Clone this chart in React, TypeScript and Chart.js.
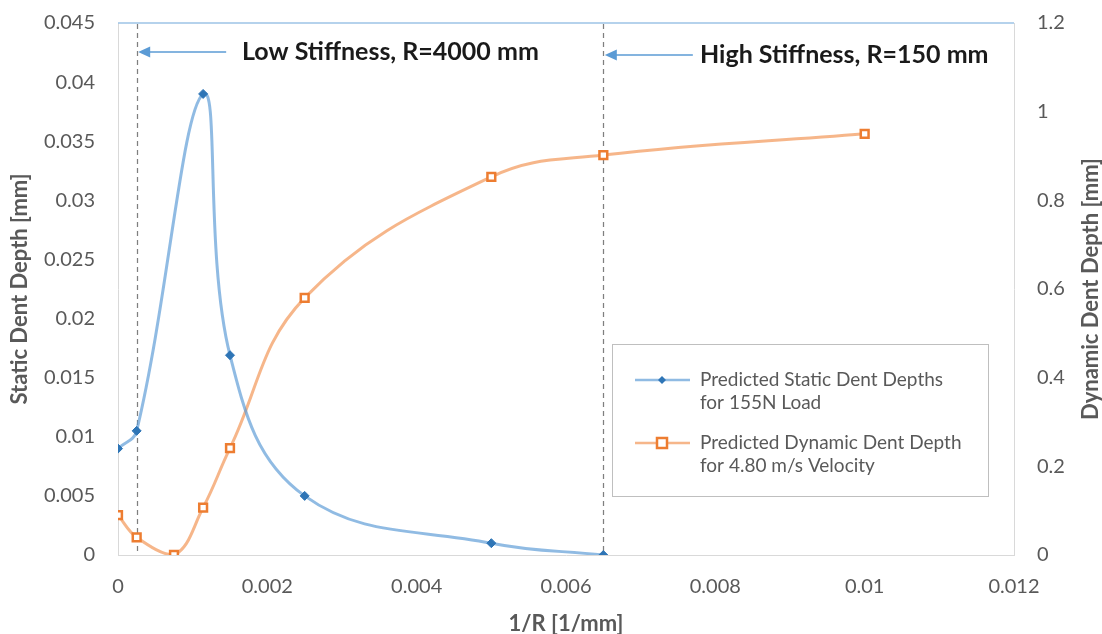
import React, { useEffect, useRef } from 'react';
import { Chart, registerables } from 'chart.js';

Chart.register(...registerables);

// ---------- data ----------
const staticX = [0, 0.00025, 0.00114, 0.0015, 0.0025, 0.005, 0.0065];
const staticDepth = [0.009, 0.0105, 0.039, 0.0169, 0.005, 0.001, 0];
const dynamicX = [0, 0.00025, 0.00075, 0.00114, 0.0015, 0.0025, 0.005, 0.0065, 0.01];
const dynamicDepth = [0.09, 0.04, 0.0, 0.107, 0.241, 0.58, 0.853, 0.902, 0.95];
const stiffnessLines = [0.00025, 0.0065];
const stiffnessLabels = ['Low Stiffness, R=4000 mm', 'High Stiffness, R=150 mm'];
const staticLegend = ['Predicted Static Dent Depths', 'for 155N Load'];
const dynamicLegend = ['Predicted Dynamic Dent Depth', 'for 4.80 m/s Velocity'];
const xTitle = '1/R [1/mm]';
const yTitle = 'Static Dent Depth [mm]';
const y1Title = 'Dynamic Dent Depth [mm]';

const FONT = 'Lato, "Noto Sans", sans-serif';
const TICK = '#595959';
const BLUE_LINE = 'rgba(91,155,213,0.68)';
const BLUE_PT = '#2e75b6';
const ORANGE_LINE = 'rgba(244,169,118,0.85)';
const ORANGE_PT = '#ed7d31';

const fmt = (v: any) => String(Number(Number(v).toFixed(4)));

const annLayout = [
  { arrowY: 52, tailDx: 88, textX: 242 },
  { arrowY: 55, tailDx: 88, textX: 700 },
];

function diamond(ctx: CanvasRenderingContext2D, cx: number, cy: number, r: number) {
  ctx.beginPath();
  ctx.moveTo(cx, cy - r);
  ctx.lineTo(cx + r, cy);
  ctx.lineTo(cx, cy + r);
  ctx.lineTo(cx - r, cy);
  ctx.closePath();
}

const overlay = {
  id: 'overlay',
  beforeDatasetsDraw(chart: any) {
    const { ctx, chartArea: a, scales } = chart;
    const x = scales.x;
    ctx.save();
    ctx.strokeStyle = '#9dc3e6';
    ctx.lineWidth = 1.5;
    ctx.beginPath();
    ctx.moveTo(a.left, a.top);
    ctx.lineTo(a.right, a.top);
    ctx.stroke();
    ctx.strokeStyle = '#7f7f7f';
    ctx.lineWidth = 1.25;
    ctx.setLineDash([5, 4]);
    stiffnessLines.forEach((v) => {
      const px = Math.round(x.getPixelForValue(v)) + 0.5;
      ctx.beginPath();
      ctx.moveTo(px, a.top + 1);
      ctx.lineTo(px, a.bottom);
      ctx.stroke();
    });
    ctx.restore();
  },
  afterDraw(chart: any) {
    const { ctx, chartArea: a, scales } = chart;
    const x = scales.x;
    ctx.save();
    // arrows + labels
    stiffnessLines.forEach((v, i) => {
      const L = annLayout[i];
      const px = x.getPixelForValue(v) + 1.5;
      ctx.strokeStyle = '#5b9bd5';
      ctx.fillStyle = '#5b9bd5';
      ctx.lineWidth = 1.6;
      ctx.beginPath();
      ctx.moveTo(px + 8, L.arrowY);
      ctx.lineTo(px + L.tailDx, L.arrowY);
      ctx.stroke();
      ctx.beginPath();
      ctx.moveTo(px, L.arrowY);
      ctx.lineTo(px + 12, L.arrowY - 5.5);
      ctx.lineTo(px + 12, L.arrowY + 5.5);
      ctx.closePath();
      ctx.fill();
      ctx.fillStyle = '#1a1a1a';
      ctx.font = `bold 25px ${FONT}`;
      ctx.textAlign = 'left';
      ctx.textBaseline = 'middle';
      ctx.fillText(stiffnessLabels[i], L.textX, L.arrowY);
    });

    // legend box
    ctx.fillStyle = '#ffffff';
    ctx.fillRect(612, 344, 376, 152);
    ctx.strokeStyle = '#bfbfbf';
    ctx.lineWidth = 1;
    ctx.strokeRect(612.5, 344.5, 376, 152);
    // static entry
    ctx.strokeStyle = BLUE_LINE;
    ctx.lineWidth = 2.5;
    ctx.beginPath();
    ctx.moveTo(635, 380);
    ctx.lineTo(690, 380);
    ctx.stroke();
    ctx.fillStyle = BLUE_PT;
    diamond(ctx, 662, 380, 4);
    ctx.fill();
    // dynamic entry
    ctx.strokeStyle = ORANGE_LINE;
    ctx.beginPath();
    ctx.moveTo(635, 443);
    ctx.lineTo(690, 443);
    ctx.stroke();
    ctx.fillStyle = '#ffffff';
    ctx.fillRect(657, 438, 10, 10);
    ctx.strokeStyle = ORANGE_PT;
    ctx.lineWidth = 2.5;
    ctx.strokeRect(657, 438, 10, 10);
    ctx.fillStyle = TICK;
    ctx.font = `19px ${FONT}`;
    ctx.textAlign = 'left';
    ctx.textBaseline = 'middle';
    ctx.fillText(staticLegend[0], 700, 380);
    ctx.fillText(staticLegend[1], 700, 403);
    ctx.fillText(dynamicLegend[0], 700, 443);
    ctx.fillText(dynamicLegend[1], 700, 466);

    // axis titles
    const midY = (a.top + a.bottom) / 2;
    ctx.font = `bold 22px ${FONT}`;
    ctx.fillStyle = TICK;
    ctx.textAlign = 'center';
    ctx.textBaseline = 'middle';
    ctx.save();
    ctx.translate(20, midY);
    ctx.rotate(-Math.PI / 2);
    ctx.fillText(yTitle, 0, 0);
    ctx.restore();
    ctx.save();
    ctx.translate(1091, midY);
    ctx.rotate(-Math.PI / 2);
    ctx.fillText(y1Title, 0, 0);
    ctx.restore();
    ctx.fillText(xTitle, (a.left + a.right) / 2, 624);
    ctx.restore();
  },
};

export default function App() {
  const ref = useRef<HTMLCanvasElement | null>(null);
  useEffect(() => {
    if (!ref.current) return;
    const tickFont = { family: FONT, size: 20 };
    const chart = new Chart(ref.current, {
      type: 'line',
      data: {
        datasets: [
          {
            label: staticLegend.join(' '),
            data: staticX.map((x, i) => ({ x, y: staticDepth[i] })),
            yAxisID: 'y',
            borderColor: BLUE_LINE,
            borderWidth: 3,
            tension: 0.4,
            fill: false,
            pointStyle: 'rectRot',
            pointRadius: 4.5,
            pointBackgroundColor: BLUE_PT,
            pointBorderColor: BLUE_PT,
            pointBorderWidth: 1,
          },
          {
            label: dynamicLegend.join(' '),
            data: dynamicX.map((x, i) => ({ x, y: dynamicDepth[i] })),
            yAxisID: 'y1',
            borderColor: ORANGE_LINE,
            borderWidth: 3,
            tension: 0.4,
            fill: false,
            pointStyle: 'rect',
            pointRadius: 5.5,
            pointBackgroundColor: '#ffffff',
            pointBorderColor: ORANGE_PT,
            pointBorderWidth: 2.5,
          },
        ],
      },
      options: {
        responsive: false,
        animation: false,
        devicePixelRatio: 1,
        layout: { padding: { top: 23, left: 0, right: 0, bottom: 0 } },
        plugins: { legend: { display: false }, tooltip: { enabled: false } },
        scales: {
          x: {
            type: 'linear',
            min: 0,
            max: 0.012,
            ticks: { stepSize: 0.002, callback: fmt, font: tickFont, color: TICK, padding: 0, maxRotation: 0 },
            grid: { display: false, drawTicks: true, tickLength: 20 },
            border: { display: true, color: '#d9d9d9', width: 1 },
            afterFit: (s: any) => { s.height = 79; },
          },
          y: {
            type: 'linear',
            position: 'left',
            min: 0,
            max: 0.045,
            ticks: { stepSize: 0.005, callback: fmt, font: tickFont, color: TICK, padding: 0 },
            grid: { display: false, drawTicks: true, tickLength: 23 },
            border: { display: true, color: '#d9d9d9', width: 1 },
            afterFit: (s: any) => { s.width = 118; },
          },
          y1: {
            type: 'linear',
            position: 'right',
            min: 0,
            max: 1.2,
            ticks: { stepSize: 0.2, callback: fmt, font: tickFont, color: TICK, padding: 0 },
            grid: { display: false, drawTicks: true, tickLength: 23 },
            border: { display: true, color: '#d9d9d9', width: 1 },
            afterFit: (s: any) => { s.width = 88; },
          },
        },
      },
      plugins: [overlay],
    } as any);
    return () => chart.destroy();
  }, []);
  return (
    <div style={{ position: 'fixed', left: 0, top: 0, width: 1102, height: 634, background: '#fff' }}>
      <canvas ref={ref} width={1102} height={634} style={{ display: 'block' }} />
    </div>
  );
}
